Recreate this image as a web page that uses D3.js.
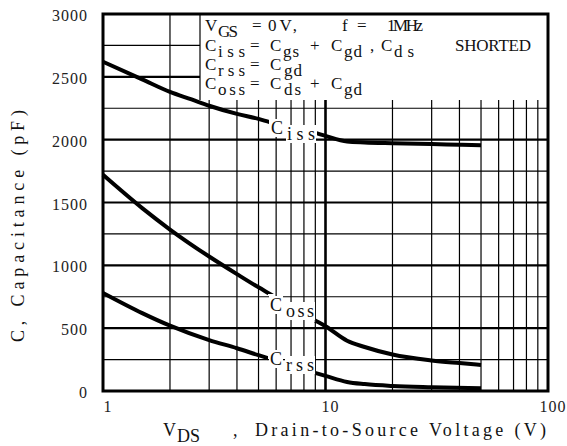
<!DOCTYPE html>
<html>
<head>
<meta charset="utf-8">
<script src="https://cdn.jsdelivr.net/npm/d3@7/dist/d3.min.js"></script>
<style>
  html, body { margin: 0; padding: 0; background: #fff; }
  svg { display: block; }
</style>
</head>
<body>
<svg id="chart" width="567" height="446"></svg>
<script>
// ---- data ----
const cissV = [1, 1.5, 2, 2.5, 3, 4, 5, 5.6, 8.8, 10, 12.5, 15, 20, 30, 40, 50];
const cissC = [2620, 2480, 2380, 2320, 2270, 2205, 2165, 2140, 2060, 2030, 1985, 1978, 1972, 1965, 1960, 1955];

const cossV = [1, 1.5, 2, 3, 4, 5, 5.6, 8.9, 10, 12.5, 15, 20, 30, 40, 50];
const cossC = [1720, 1455, 1285, 1070, 930, 825, 775, 565, 515, 400, 350, 290, 243, 222, 207];

const crssV = [1, 1.5, 2, 3, 4, 5, 5.6, 8.9, 10, 12.5, 15, 20, 30, 50];
const crssC = [780, 620, 520, 405, 340, 285, 258, 146, 120, 72, 55, 40, 30, 22];

const yTicks = [0, 500, 1000, 1500, 2000, 2500, 3000];
const yGrid = [250, 500, 750, 1000, 1250, 1500, 1750, 2000, 2250, 2500, 2750];
const xTicks = [1, 10, 100];
const xGrid = [2, 3, 4, 5, 6, 7, 8, 9, 10, 20, 30, 40, 50, 60, 70, 80, 90];

// ---- layout ----
const W = 567, H = 446;
const L = 103, T = 14, R = 548, B = 391;
const svg = d3.select("#chart");
const x = d3.scaleLog().domain([1, 100]).range([L, R]);
const y = d3.scaleLinear().domain([0, 3000]).range([B, T]);

const serif = "'Liberation Serif', 'Times New Roman', serif";
const ink = "#111";

// grid
const g = svg.append("g");
g.selectAll("line.h").data(yGrid).join("line")
  .attr("x1", L).attr("x2", R)
  .attr("y1", d => y(d)).attr("y2", d => y(d))
  .attr("stroke", "#000")
  .attr("stroke-width", d => d % 500 === 0 ? 2.2 : 1.1);
g.selectAll("line.v").data(xGrid).join("line")
  .attr("x1", d => x(d)).attr("x2", d => x(d))
  .attr("y1", T).attr("y2", B)
  .attr("stroke", "#000")
  .attr("stroke-width", d => d === 10 ? 2.6 : 1.2);

// legend box
const legendBox = { x0: 200, y1: 100 };
svg.append("rect")
  .attr("x", legendBox.x0).attr("y", T)
  .attr("width", R - legendBox.x0).attr("height", legendBox.y1 - T)
  .attr("fill", "#fff");
svg.append("line")
  .attr("x1", legendBox.x0).attr("x2", legendBox.x0)
  .attr("y1", T).attr("y2", legendBox.y1)
  .attr("stroke", "#000").attr("stroke-width", 1.2);

// legend text rows: [text, x0, x1, isSub]
const legendRows = [
  { base: 31, items: [["V", 205, 216, 0], ["GS", 218, 238, 1], ["=", 252, 262, 0], ["0V,", 268, 297, 0], ["f", 342, 348, 0], ["=", 357, 367, 0], ["1MHz", 387, 423, 0]] },
  { base: 51, items: [["C", 205, 216, 0], ["iss", 218, 245, 1], ["=", 250, 259, 0], ["C", 270, 281, 0], ["gs", 283, 299, 1], ["+", 310, 319, 0], ["C", 331, 342, 0], ["gd", 344, 362, 1], [",", 370, 374, 0], ["C", 381, 392, 0], ["ds", 394, 414, 1], ["SHORTED", 455, 531, 0]] },
  { base: 70, items: [["C", 205, 216, 0], ["rss", 218, 245, 1], ["=", 250, 259, 0], ["C", 270, 281, 0], ["gd", 284, 302, 1]] },
  { base: 89, items: [["C", 205, 216, 0], ["oss", 218, 245, 1], ["=", 250, 259, 0], ["C", 270, 281, 0], ["ds", 284, 301, 1], ["+", 310, 319, 0], ["C", 331, 342, 0], ["gd", 344, 362, 1]] }
];
const lg = svg.append("g");
legendRows.forEach(row => {
  row.items.forEach(([t, x0, x1, sub]) => {
    const el = lg.append("text")
      .attr("x", x0).attr("y", row.base + (sub ? 6 : 0))
      .attr("font-family", serif)
      .attr("font-size", 17)
      .attr("fill", ink)
      .text(t);
    if (t.length > 1) el.attr("textLength", x1 - x0).attr("lengthAdjust", "spacing");
  });
});

// curve labels
const labels = [
  { main: "C", sub: "iss", x: 271, base: 134 },
  { main: "C", sub: "oss", x: 270, base: 311 },
  { main: "C", sub: "rss", x: 270, base: 365 }
];
const labelG = svg.append("g");
const boxes = [];
const union = [];
labels.forEach(lb => {
  const gg = labelG.append("g");
  const t1 = gg.append("text").attr("x", lb.x).attr("y", lb.base)
    .attr("font-family", serif).attr("font-size", 18).attr("fill", ink).text(lb.main);
  const t2 = gg.append("text").attr("x", lb.x + 16).attr("y", lb.base + 6)
    .attr("font-family", serif).attr("font-size", 18).attr("fill", ink)
    .attr("textLength", 28).attr("lengthAdjust", "spacing").text(lb.sub);
  const b1 = t1.node().getBBox(), b2 = t2.node().getBBox();
  boxes.push({ g: gg, bs: [b1, b2] });
  const ux0 = Math.min(b1.x, b2.x) - 2, uy0 = Math.min(b1.y, b2.y) - 1;
  const ux1 = Math.max(b1.x + b1.width, b2.x + b2.width) + 2;
  const uy1 = Math.max(b1.y + b1.height, b2.y + b2.height) + 1;
  union.push({ x: ux0, y: uy0, w: ux1 - ux0, h: uy1 - uy0 });
});
boxes.forEach(({ g: gg, bs }) => {
  bs.forEach(b => {
    gg.insert("rect", ":first-child")
      .attr("x", b.x - 1).attr("y", b.y + 1)
      .attr("width", b.width + 2).attr("height", b.height - 2)
      .attr("fill", "#fff");
  });
});

// mask for curves
const defs = svg.append("defs");
const mask = defs.append("mask").attr("id", "curveMask").attr("maskUnits", "userSpaceOnUse")
  .attr("x", 0).attr("y", 0).attr("width", W).attr("height", H);
mask.append("rect").attr("x", 0).attr("y", 0).attr("width", W).attr("height", H).attr("fill", "#fff");
union.forEach(u => mask.append("rect").attr("x", u.x).attr("y", u.y).attr("width", u.w).attr("height", u.h).attr("fill", "#000"));

// curves
const line = d3.line().x(d => x(d[0])).y(d => y(d[1])).curve(d3.curveMonotoneX);
const series = [
  d3.zip(cissV, cissC),
  d3.zip(cossV, cossC),
  d3.zip(crssV, crssC)
];
const cg = svg.insert("g", () => labelG.node()).attr("mask", "url(#curveMask)");
cg.selectAll("path").data(series).join("path")
  .attr("d", line)
  .attr("fill", "none")
  .attr("stroke", "#000")
  .attr("stroke-width", 4)
  .attr("stroke-linecap", "butt");

// frame
svg.append("rect")
  .attr("x", L).attr("y", T).attr("width", R - L).attr("height", B - T)
  .attr("fill", "none").attr("stroke", "#000").attr("stroke-width", 3);

// tick labels
svg.selectAll("text.yt").data(yTicks).join("text")
  .attr("class", "yt")
  .attr("x", 88).attr("y", d => y(d) + 7)
  .attr("text-anchor", "end")
  .attr("font-family", serif).attr("font-size", 16)
  .attr("letter-spacing", 1)
  .attr("fill", "#222")
  .text(d => d);
svg.selectAll("text.xt").data(xTicks).join("text")
  .attr("class", "xt")
  .attr("x", d => x(d) + 5).attr("y", 412)
  .attr("text-anchor", "middle")
  .attr("font-family", serif).attr("font-size", 16)
  .attr("letter-spacing", 1)
  .attr("fill", "#222")
  .text(d => d);

// axis titles
svg.append("text").attr("x", 163).attr("y", 436)
  .attr("font-family", serif).attr("font-size", 18).attr("fill", ink).text("V");
svg.append("text").attr("x", 177).attr("y", 442)
  .attr("font-family", serif).attr("font-size", 18).attr("fill", ink)
  .attr("textLength", 23).attr("lengthAdjust", "spacing").text("DS");
svg.append("text").attr("x", 233).attr("y", 436)
  .attr("font-family", serif).attr("font-size", 18).attr("fill", ink).text(",");
svg.append("text").attr("x", 255).attr("y", 436)
  .attr("font-family", serif).attr("font-size", 18).attr("fill", ink)
  .attr("textLength", 291).attr("lengthAdjust", "spacing")
  .text("Drain-to-Source Voltage (V)");
svg.append("text")
  .attr("transform", "translate(24,226) rotate(-90)")
  .attr("text-anchor", "middle")
  .attr("font-family", serif).attr("font-size", 18).attr("fill", ink)
  .attr("textLength", 232).attr("lengthAdjust", "spacing")
  .text("C, Capacitance (pF)");
</script>
</body>
</html>
